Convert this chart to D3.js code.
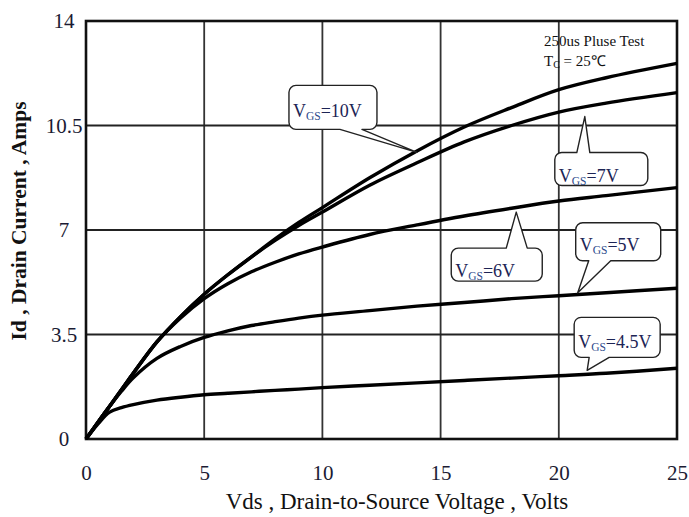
<!doctype html>
<html lang="en">
<head>
  <meta charset="utf-8">
  <title>Id vs Vds output characteristics</title>
  <script src="https://d3js.org/d3.v7.min.js"></script>
  <style>
    body { margin: 0; background: #fff; }
    svg { display: block; font-family: "Liberation Serif", "Times New Roman", serif; }
  </style>
</head>
<body>
  <div id="chart"></div>
  <script>
  // data (Vds in volts, Id in amps)
  var vds   = [0, 0.5, 1, 1.5, 2, 3, 4, 5, 6, 7, 8, 9, 10, 12, 14, 16, 18, 20, 22, 25];
  var id10  = [0, 0.55, 1.1, 1.65, 2.2, 3.25, 4.1, 4.85, 5.5, 6.1, 6.7, 7.25, 7.75, 8.75, 9.65, 10.45, 11.1, 11.7, 12.1, 12.58];
  var id7   = [0, 0.55, 1.1, 1.65, 2.2, 3.25, 4.1, 4.85, 5.5, 6.1, 6.65, 7.15, 7.6, 8.5, 9.25, 9.95, 10.5, 10.95, 11.25, 11.6];
  var id6   = [0, 0.55, 1.1, 1.65, 2.2, 3.25, 4.05, 4.7, 5.2, 5.6, 5.92, 6.2, 6.43, 6.85, 7.17, 7.47, 7.73, 7.97, 8.15, 8.42];
  var id5   = [0, 0.55, 1.1, 1.6, 2.05, 2.7, 3.1, 3.4, 3.62, 3.8, 3.93, 4.05, 4.15, 4.3, 4.45, 4.57, 4.7, 4.8, 4.9, 5.05];
  var id45  = [0, 0.5, 0.9, 1.05, 1.15, 1.3, 1.4, 1.48, 1.53, 1.58, 1.63, 1.67, 1.72, 1.8, 1.88, 1.96, 2.04, 2.12, 2.2, 2.37];

  var xTicks = [0, 5, 10, 15, 20, 25];
  var yTicks = [0, 3.5, 7, 10.5, 14];
  var yTickLabels = ["0", "3.5", "7", "10.5", "14"];

  // callout labels and where their pointers touch the curves (data coords)
  var calloutVgs   = ["10V", "7V", "6V", "5V", "4.5V"];
  var calloutTipX  = [14.0, 21.1, 18.2, 20.8, 21.2];
  var calloutTipY  = [9.6, 10.8, 7.6, 4.9, 2.3];

  // box layout relative to the tip, in px
  var calloutLayout = [
    {dx: -128, dy: -67, w: 88, h: 44, side: "bottom", b1: 51, b2: 73, tb: 12},
    {dx: -30,  dy: 36,  w: 93, h: 33, side: "top",    b1: 22, b2: 35, tb: 4},
    {dx: -65,  dy: 36,  w: 91, h: 33, side: "top",    b1: 55, b2: 76, tb: 4},
    {dx: -2,   dy: -70, w: 85, h: 38, side: "bottom", b1: 13, b2: 35, tb: 10},
    {dx: -13,  dy: -53, w: 86, h: 40, side: "bottom", b1: 15, b2: 35, tb: 9}
  ];

  var width = 689,
      height = 517,
      plotLeft = 86,
      plotRight = 677,
      plotTop = 21,
      plotBottom = 439;

  var series = [id10, id7, id6, id5, id45];

  var svg = d3.select("#chart").append("svg")
      .attr("width", width)
      .attr("height", height);

  var x = d3.scaleLinear().domain([0, 25]).range([plotLeft, plotRight]);
  var y = d3.scaleLinear().domain([0, 14]).range([plotBottom, plotTop]);

  // grid
  svg.append("g")
    .selectAll("line")
    .data(xTicks.slice(1, -1))
    .enter().append("line")
      .attr("x1", function(d){ return x(d); })
      .attr("x2", function(d){ return x(d); })
      .attr("y1", plotTop)
      .attr("y2", plotBottom)
      .attr("stroke", "#333")
      .attr("stroke-width", 1.8);

  svg.append("g")
    .selectAll("line")
    .data(yTicks.slice(1, -1))
    .enter().append("line")
      .attr("x1", plotLeft)
      .attr("x2", plotRight)
      .attr("y1", function(d){ return y(d); })
      .attr("y2", function(d){ return y(d); })
      .attr("stroke", "#222")
      .attr("stroke-width", 1.8);

  svg.append("rect")
    .attr("x", plotLeft)
    .attr("y", plotTop)
    .attr("width", plotRight - plotLeft)
    .attr("height", plotBottom - plotTop)
    .attr("fill", "none")
    .attr("stroke", "#111")
    .attr("stroke-width", 2.6);

  // axes (tick labels only, the frame is drawn above)
  var xAxis = d3.axisBottom(x).tickValues(xTicks).tickSize(0).tickPadding(26)
      .tickFormat(d3.format("d"));
  var gx = svg.append("g").attr("transform", "translate(0," + plotBottom + ")").call(xAxis);
  gx.select(".domain").remove();
  gx.selectAll("text")
    .attr("font-family", "Liberation Serif, serif")
    .attr("font-size", 21)
    .attr("fill", "#1b1b33");

  var yAxis = d3.axisLeft(y).tickValues(yTicks).tickSize(0).tickPadding(22)
      .tickFormat(function(d, i){ return yTickLabels[i]; });
  var gy = svg.append("g").attr("transform", "translate(" + plotLeft + ",0)").call(yAxis);
  gy.select(".domain").remove();
  gy.selectAll("text")
    .attr("font-family", "Liberation Serif, serif")
    .attr("font-size", 21)
    .attr("text-anchor", "middle")
    .attr("fill", "#1b1b33");

  // curves
  var line = d3.line()
    .x(function(d, i){ return x(vds[i]); })
    .y(function(d){ return y(d); })
    .curve(d3.curveCatmullRom.alpha(0.5));

  svg.append("g")
    .selectAll("path")
    .data(series)
    .enter().append("path")
      .attr("d", line)
      .attr("fill", "none")
      .attr("stroke", "#000")
      .attr("stroke-width", 3.4)
      .attr("stroke-linejoin", "round");

  // axis titles
  svg.append("text")
    .attr("x", 397)
    .attr("y", 509)
    .attr("text-anchor", "middle")
    .attr("font-size", 23)
    .attr("fill", "#111")
    .text("Vds , Drain-to-Source Voltage , Volts");

  svg.append("text")
    .attr("transform", "translate(26,221) rotate(-90)")
    .attr("text-anchor", "middle")
    .attr("font-size", 21.5)
    .attr("font-weight", "bold")
    .attr("fill", "#111")
    .text("Id , Drain Current , Amps");

  // test conditions
  svg.append("text")
    .attr("x", 544)
    .attr("y", 46)
    .attr("font-size", 15)
    .attr("fill", "#111")
    .text("250us Pluse Test");

  var tc = svg.append("text")
    .attr("x", 544)
    .attr("y", 66)
    .attr("font-size", 15)
    .attr("fill", "#111");
  tc.append("tspan").text("T");
  tc.append("tspan").attr("font-size", 10).attr("dy", 2).text("C");
  tc.append("tspan").attr("dy", -2).text(" = 25\u2103");

  // callouts
  function calloutPath(bx, by, w, h, side, b1, b2, tx, ty) {
    var r = 7, p = d3.path();
    p.moveTo(bx + r, by);
    if (side == "top") {
      p.lineTo(bx + b1, by);
      p.lineTo(tx, ty);
      p.lineTo(bx + b2, by);
    }
    p.lineTo(bx + w - r, by);
    p.arcTo(bx + w, by, bx + w, by + r, r);
    p.lineTo(bx + w, by + h - r);
    p.arcTo(bx + w, by + h, bx + w - r, by + h, r);
    if (side == "bottom") {
      p.lineTo(bx + b2, by + h);
      p.lineTo(tx, ty);
      p.lineTo(bx + b1, by + h);
    }
    p.lineTo(bx + r, by + h);
    p.arcTo(bx, by + h, bx, by + h - r, r);
    p.lineTo(bx, by + r);
    p.arcTo(bx, by, bx + r, by, r);
    p.closePath();
    return p.toString();
  }

  var callouts = svg.append("g")
    .selectAll("g")
    .data(calloutVgs)
    .enter().append("g");

  callouts.append("path")
    .attr("d", function(d, i){
      var L = calloutLayout[i];
      var tx = x(calloutTipX[i]), ty = y(calloutTipY[i]);
      return calloutPath(tx + L.dx, ty + L.dy, L.w, L.h, L.side, L.b1, L.b2, tx, ty);
    })
    .attr("fill", "#fff")
    .attr("stroke", "#222")
    .attr("stroke-width", 1.4)
    .attr("stroke-linejoin", "round");

  var labels = callouts.append("text")
    .attr("x", function(d, i){ return x(calloutTipX[i]) + calloutLayout[i].dx + 4; })
    .attr("y", function(d, i){
      var L = calloutLayout[i];
      return y(calloutTipY[i]) + L.dy + L.h - L.tb;
    })
    .attr("font-size", 18)
    .attr("fill", "#1c2455");
  labels.append("tspan").text("V");
  labels.append("tspan").attr("font-size", 11.5).attr("dy", 3).attr("fill", "#2d4a8c").text("GS");
  labels.append("tspan").attr("dy", -3).text(function(d){ return "=" + d; });
  </script>
</body>
</html>
